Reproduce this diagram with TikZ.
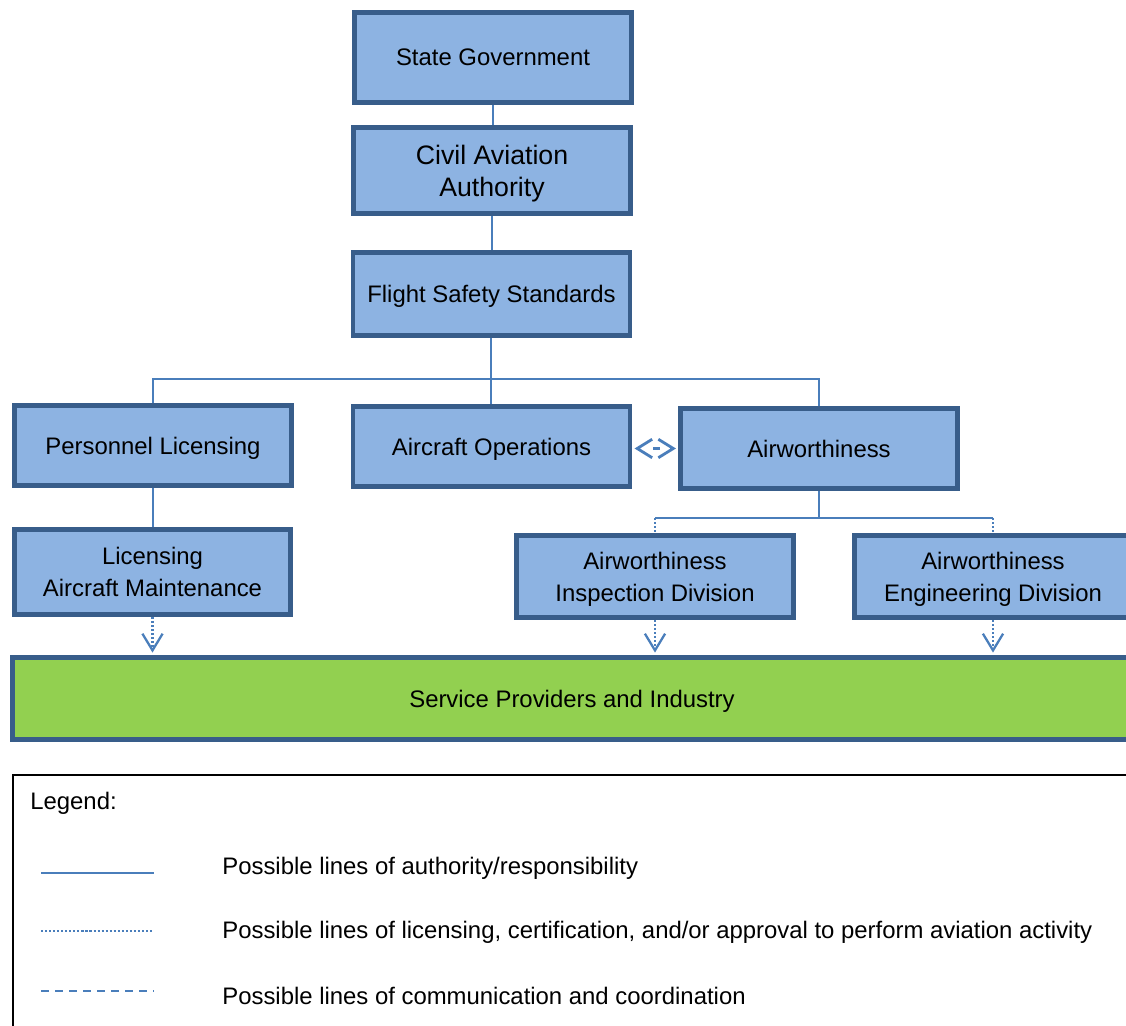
\documentclass[tikz,border=0pt]{standalone}
\usepackage{fontspec}
\setmainfont{Liberation Sans}
\usetikzlibrary{arrows.meta}
\usetikzlibrary{backgrounds}
\definecolor{boxfill}{HTML}{8DB3E2}
\definecolor{boxline}{HTML}{385D8A}
\definecolor{linkblue}{HTML}{4A7EBB}
\definecolor{provgreen}{HTML}{92D050}
\tikzstyle{unit}=[draw=boxline, fill=boxfill, line width=2.8pt, minimum width=5.54cm, minimum height=1.7cm, align=center, inner sep=0pt, text depth=0pt, font=\fontsize{13.6}{18.2}\selectfont]
\tikzstyle{auth}=[draw=linkblue, line width=1.5pt]
\tikzstyle{lic}=[draw=linkblue, line width=1.3pt, dash pattern=on 1.2pt off 1.1pt]
\tikzstyle{comm}=[draw=linkblue, line width=1.5pt, dash pattern=on 4.5pt off 3.5pt]
\tikzstyle{vee>}=[-{Straight Barb[length=9.5pt,width=11.5pt,line width=1.3pt]}]
\tikzstyle{<vee>}=[{Straight Barb[length=8.5pt,width=10.5pt,line width=1.6pt]}-{Straight Barb[length=8.5pt,width=10.5pt,line width=1.6pt]}]
\tikzstyle{legtext}=[anchor=west, inner sep=0pt, font=\fontsize{13.6}{16}\selectfont]

\begin{document}
\begin{tikzpicture}[x=0.02cm, y=-0.02cm]
\useasboundingbox (0,0) rectangle (1126,1026);
\clip (0,0) rectangle (1126,1026);
\node[unit, minimum height=1.8cm] (sg) at (493,57.5) {State Government};
\node[unit, minimum height=1.72cm, font=\fontsize{15.2}{18.2}\selectfont] (caa) at (492,170.5) {Civil Aviation\\Authority};
\node[unit, minimum height=1.66cm] (fss) at (491.5,294) {Flight Safety Standards};
\node[unit, minimum height=1.6cm] (pl) at (153,445.5) {Personnel Licensing};
\node[unit, minimum height=1.6cm] (ao) at (491.5,446.5) {Aircraft Operations};
\node[unit, minimum height=1.6cm] (aw) at (819,448.5) {Airworthiness};
\node[unit, minimum width=5.52cm] (lam) at (152.5,572) {Licensing\\Aircraft Maintenance};
\node[unit, minimum height=1.64cm] (aid) at (655,576.5) {Airworthiness\\Inspection Division};
\node[unit, minimum height=1.64cm] (aed) at (993,576.5) {Airworthiness\\Engineering Division};
\node[unit, fill=provgreen, minimum width=22.38cm, minimum height=1.64cm] (sp) at (572,698.5) {Service Providers and Industry};
\coordinate (bar) at (491,379);
\coordinate (split) at (819,518);
\coordinate (splitL) at (aid.north |- split);
\coordinate (splitR) at (aed.north |- split);
\begin{pgfonlayer}{background}
\draw[auth] (sg.south) -- (sg.south |- caa.north);
\draw[auth] (caa.south) -- (caa.south |- fss.north);
\draw[auth] (bar |- fss.south) -- (bar);
\draw[auth] (pl.north) |- (bar) -| (aw.north);
\draw[auth] (bar) -- (bar |- ao.north);
\draw[auth] (pl.south) -- (pl.south |- lam.north);
\draw[auth] (aw.south) -- (split);
\draw[auth] (splitL) -- (splitR);
\draw[lic] (splitL) -- (aid.north);
\draw[lic] (splitR) -- (aed.north);
\end{pgfonlayer}
\foreach \n in {lam,aid,aed} {
	\draw[lic,vee>] (\n.south) -- ([yshift=1.4pt]\n.south |- sp.north);
}
\draw[comm,<vee>,dash pattern=on 4pt off 30pt,dash phase=25.8pt,shorten <=1.2pt,shorten >=1.2pt] (ao.east |- aw.west) -- (aw.west);
% legend
\draw[black, line width=0.9pt] (13,775) rectangle (1160,1060);
\node[legtext] (leg) at (30,803) {Legend:};
\draw[auth] (41,873) -- (154,873);
\draw[lic] (41,931) -- (154,931);
\draw[comm] (41,991) -- (154,991);
\node[legtext] (legA) at (222,868) {Possible lines of authority/responsibility};
\node[legtext] (legB) at (222,932) {Possible lines of licensing, certification, and/or approval to perform aviation activity};
\node[legtext] (legC) at (222,996) {Possible lines of communication and coordination};
\end{tikzpicture}
\end{document}
